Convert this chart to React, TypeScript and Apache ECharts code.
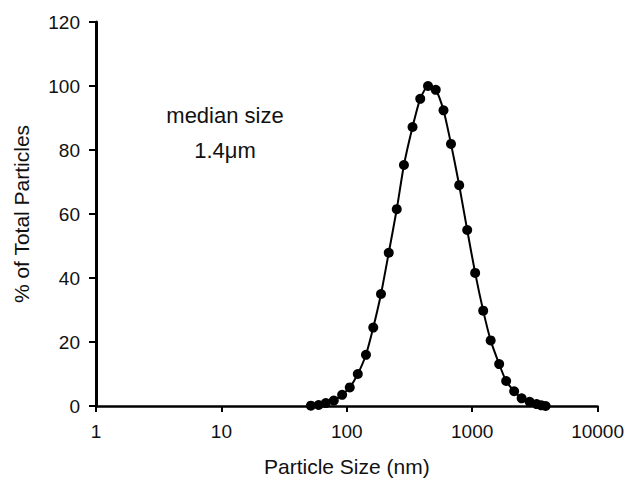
import React, { useEffect, useRef } from "react";
import * as echarts from "echarts";

// Particle sizes (nm)
const sizesNm = [
  51.7, 59.6, 68.0, 78.8, 91.8, 105.6, 122.4, 142.2, 162.6, 187.4, 216.1,
  250.3, 285.6, 334.4, 385.3, 444.3, 512.0, 590.6, 677.7, 787.7, 912.5, 1056,
  1224, 1404, 1641, 1866, 2161, 2478, 2872, 3266, 3559, 3853,
];
// % of total particles
const percentValues = [
  0.1, 0.3, 0.9, 1.7, 3.5, 5.8, 10.0, 16.0, 24.5, 35.0, 47.9, 61.5, 75.3, 87.2,
  96.0, 100.0, 98.8, 92.4, 81.9, 69.0, 55.0, 41.6, 29.8, 20.5, 13.1, 7.8, 4.6,
  2.4, 1.3, 0.6, 0.2, 0.0,
];
const annotationLines = ["median size", "1.4μm"];
const xAxisTitle = "Particle Size (nm)";
const yAxisTitle = "% of Total Particles";

const FONT = '"Liberation Sans", Arial, Helvetica, sans-serif';

export default function App() {
  const ref = useRef<HTMLDivElement>(null);
  useEffect(() => {
    if (!ref.current) return;
    const chart = echarts.init(ref.current, undefined, { renderer: "svg" });
    const data = sizesNm.map((x, i) => [x, percentValues[i]]);
    chart.setOption({
      animation: false,
      backgroundColor: "#ffffff",
      grid: { left: 96, right: 29, top: 22, bottom: 78, containLabel: false },
      xAxis: {
        type: "log",
        logBase: 10,
        min: 1,
        max: 10000,
        name: xAxisTitle,
        nameLocation: "middle",
        nameGap: 50,
        nameTextStyle: { fontFamily: FONT, fontSize: 21, color: "#111" },
        axisLine: { show: true, onZero: false, lineStyle: { color: "#000", width: 2.5 } },
        axisTick: { show: true, inside: false, length: 6, lineStyle: { color: "#000", width: 2 } },
        minorTick: { show: false },
        splitLine: { show: false },
        minorSplitLine: { show: false },
        axisLabel: {
          margin: 16,
          fontFamily: FONT,
          fontSize: 19,
          color: "#111",
          formatter: (v: number) => String(Math.round(v)),
        },
      },
      yAxis: {
        type: "value",
        min: 0,
        max: 120,
        interval: 20,
        name: yAxisTitle,
        nameLocation: "middle",
        nameGap: 64,
        nameTextStyle: { fontFamily: FONT, fontSize: 21, color: "#111" },
        axisLine: { show: true, lineStyle: { color: "#000", width: 3 } },
        axisTick: { show: true, inside: false, length: 7, lineStyle: { color: "#000", width: 2 } },
        splitLine: { show: false },
        axisLabel: { margin: 16, fontFamily: FONT, fontSize: 19, color: "#111" },
      },
      graphic: [
        {
          type: "text",
          x: 225,
          y: 104,
          style: {
            text: annotationLines[0],
            fontFamily: FONT,
            fontSize: 22,
            fill: "#111",
            align: "center",
          },
        },
        {
          type: "text",
          x: 225,
          y: 139,
          style: {
            text: annotationLines[1],
            fontFamily: FONT,
            fontSize: 22,
            fill: "#111",
            align: "center",
          },
        },
      ],
      series: [
        {
          type: "line",
          data,
          smooth: 0.2,
          symbol: "circle",
          symbolSize: 10,
          showSymbol: true,
          itemStyle: { color: "#000" },
          lineStyle: { color: "#000", width: 2 },
        },
      ],
    });
    return () => chart.dispose();
  }, []);
  return (
    <div
      ref={ref}
      style={{ position: "fixed", left: 0, top: 0, width: 627, height: 484, background: "#fff" }}
    />
  );
}
